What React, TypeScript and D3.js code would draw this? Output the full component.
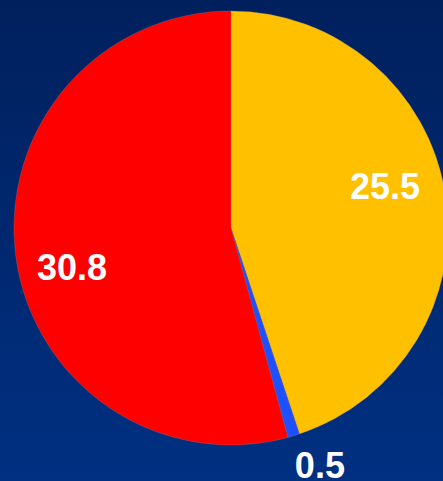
import React from 'react';
import * as d3 from 'd3';

const labels = ['A', 'B', 'C'];
const values = [25.5, 0.5, 30.8];
const colors = ['#FFC000', '#1F4FFF', '#FF0000'];

const width = 443;
const height = 481;

export default function App() {
  const cx = 231;
  const cy = 228;
  const radius = 217;

  const pie = d3.pie<number>().sort(null).value(d => d);
  const arcs = pie(values);
  const arc = d3.arc<d3.PieArcDatum<number>>().innerRadius(0).outerRadius(radius);

  // label placement: radius fraction and angle shift (deg) from slice middle
  const labelRadius = [0.735, 1.17, 0.754];
  const labelShift = [-6, -3.7, -6.2];

  return (
    <div style={{ position: 'fixed', left: 0, top: 0, width, height }}>
      <svg width={width} height={height} style={{ display: 'block' }}>
        <defs>
          <linearGradient id="bg" x1="0" y1="0" x2="0" y2="1">
            <stop offset="0%" stopColor="#00205D" />
            <stop offset="100%" stopColor="#003082" />
          </linearGradient>
        </defs>
        <rect width={width} height={height} fill="url(#bg)" />
        <g transform={`translate(${cx},${cy})`}>
          {arcs.map((a, i) => (
            <path key={labels[i]} d={arc(a) || ''} fill={colors[i]} stroke="#8a8a8a" strokeWidth={0.3} />
          ))}
          {arcs.map((a, i) => {
            const mid = (a.startAngle + a.endAngle) / 2 + (labelShift[i] * Math.PI) / 180;
            const r = radius * labelRadius[i];
            const x = r * Math.sin(mid);
            const y = -r * Math.cos(mid);
            return (
              <text
                key={'t' + i}
                x={x}
                y={y}
                textAnchor="middle"
                dominantBaseline="central"
                fill="#FFFFFF"
                fontFamily="'Liberation Sans', Arial, sans-serif"
                fontWeight="bold"
                fontSize={36}
              >
                {values[i]}
              </text>
            );
          })}
        </g>
      </svg>
    </div>
  );
}
